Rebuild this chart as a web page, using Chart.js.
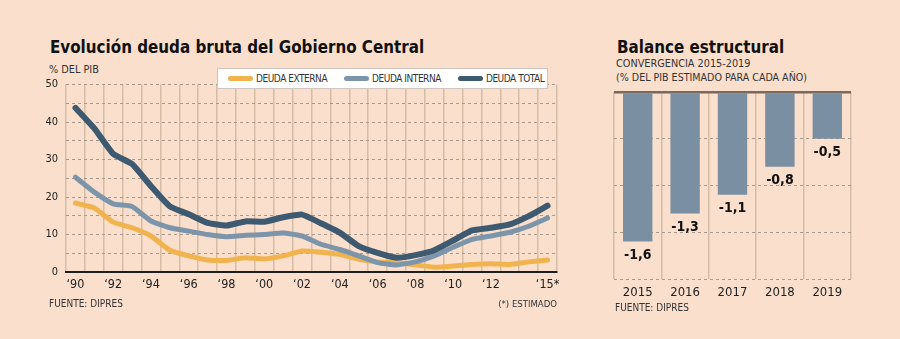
<!DOCTYPE html>
<html lang="es">
<head>
  <meta charset="utf-8">
  <title>Deuda bruta y balance estructural</title>
  <script src="https://cdn.jsdelivr.net/npm/chart.js"></script>
  <style>
    body { margin: 0; width: 900px; height: 339px; background: #f9dfcc; position: relative; overflow: hidden;
           font-family: 'DejaVu Sans Condensed', 'DejaVu Sans', sans-serif; color: #222; }
    .txt { position: absolute; white-space: nowrap; }
    .title { font-size: 18px; font-weight: bold; line-height: 18px; color: #111; transform: scaleX(0.935); transform-origin: left top; }
    .small { font-size: 10.8px; line-height: 10px; color: #333; }
    .box { position: absolute; }
    #legend { position: absolute; left: 217px; top: 68px; width: 331px; height: 21px; background: #fff;
              border: 1px solid #cfc6bf; box-sizing: border-box; display: flex; align-items: center;
              padding-left: 10px; gap: 17px; font-size: 10px; letter-spacing: -0.45px; color: #333; white-space: nowrap; }
    #legend div { display: flex; align-items: center; }
    #legend span.sw { display: inline-block; width: 25px; height: 5px; border-radius: 3px; margin-right: 3px; }
  </style>
</head>
<body>
  <div class="txt title" style="left:50px; top:38px;">Evolución deuda bruta del Gobierno Central</div>
  <div class="txt small" style="left:49px; top:65px;">% DEL PIB</div>
  <div class="box" style="left:30px; top:70px; width:540px; height:229px;"><canvas id="deudaChart"></canvas></div>
  <div id="legend"></div>
  <div class="txt small" style="left:49px; top:299px; font-size:10px;">FUENTE: DIPRES</div>
  <div class="txt small" style="right:343px; top:299px; font-size:9.5px;">(*) ESTIMADO</div>

  <div class="txt title" style="left:617px; top:38px;">Balance estructural</div>
  <div class="txt small" style="left:616px; top:59px;">CONVERGENCIA 2015-2019</div>
  <div class="txt small" style="left:616px; top:72px; font-size:10.6px;">(% DEL PIB ESTIMADO PARA CADA AÑO)</div>
  <div class="box" style="left:600px; top:85px; width:270px; height:215px;"><canvas id="balanceChart"></canvas></div>
  <div class="txt small" style="left:615px; top:303px; font-size:10px;">FUENTE: DIPRES</div>

  <script>
    // Datos: deuda bruta (% del PIB), 1990-2015
    const years = ['1990','1991','1992','1993','1994','1995','1996','1997','1998','1999','2000','2001','2002',
                   '2003','2004','2005','2006','2007','2008','2009','2010','2011','2012','2013','2014','2015'];
    const yearTicks = ['‘90','','‘92','','‘94','','‘96','','‘98','','‘00','','‘02',
                       '','‘04','','‘06','','‘08','','‘10','','‘12','','','‘15*'];
    const deudaExterna = [18.4,17.1,13.3,11.8,9.6,5.8,4.3,3.2,3.1,3.8,3.5,4.3,5.6,
                          5.3,4.7,3.4,2.7,2.5,1.9,1.3,1.6,2.0,2.2,2.0,2.7,3.2];
    const deudaInterna = [25.3,21.3,18.2,17.5,13.6,11.8,10.9,10.0,9.4,9.8,10.0,10.4,9.6,
                          7.4,6.0,4.3,2.5,1.9,2.7,4.3,6.6,8.7,9.6,10.6,12.2,14.4];
    const deudaTotal = [43.8,38.3,31.5,28.8,22.9,17.5,15.4,13.1,12.4,13.5,13.4,14.6,15.3,
                        13.0,10.5,6.9,5.1,3.8,4.5,5.8,8.4,11.1,11.8,12.7,14.9,17.7];
    const seriesNames = ['DEUDA EXTERNA', 'DEUDA INTERNA', 'DEUDA TOTAL'];
    const seriesColors = ['#f0b34e', '#7d95aa', '#3e5a71'];

    // Datos: balance estructural
    const balanceYears = ['2015','2016','2017','2018','2019'];
    const balanceValues = [-1.6, -1.3, -1.1, -0.8, -0.5];

    const FONT = "'DejaVu Sans Condensed', 'DejaVu Sans', sans-serif";

    // leyenda HTML (va dentro del area del grafico)
    const legend = document.getElementById('legend');
    seriesNames.forEach((name, i) => {
      const item = document.createElement('div');
      item.innerHTML = '<span class="sw" style="background:' + seriesColors[i] + '"></span>' + name;
      legend.appendChild(item);
    });

    new Chart(document.getElementById('deudaChart'), {
      type: 'line',
      data: {
        labels: years,
        datasets: [
          { label: seriesNames[0], data: deudaExterna, borderColor: seriesColors[0], borderWidth: 5, order: 3 },
          { label: seriesNames[1], data: deudaInterna, borderColor: seriesColors[1], borderWidth: 5, order: 2 },
          { label: seriesNames[2], data: deudaTotal, borderColor: seriesColors[2], borderWidth: 6, order: 1 }
        ]
      },
      options: {
        responsive: true,
        maintainAspectRatio: false,
        animation: false,
        layout: { padding: { top: 5, right: 13, left: 0, bottom: 0 } },
        elements: {
          point: { radius: 0 },
          line: { tension: 0.15, borderCapStyle: 'round', borderJoinStyle: 'round' }
        },
        plugins: { legend: { display: false }, tooltip: { enabled: false } },
        scales: {
          x: {
            offset: true,
            grid: { offset: true, color: '#d6bea6', lineWidth: 1.5, drawTicks: false },
            border: { display: true, color: '#1e1e1e', width: 2 },
            ticks: {
              autoSkip: false, maxRotation: 0, padding: 5, color: '#222',
              font: { family: FONT, size: 12.5 },
              callback: (v, i) => yearTicks[i]
            },
            afterFit: s => { s.height = 27; }
          },
          y: {
            min: 0, max: 50,
            grid: { color: '#a8998c', lineWidth: 1, drawTicks: false },
            border: { display: false, dash: [3, 3] },
            ticks: {
              stepSize: 5, padding: 8, color: '#222',
              font: { family: FONT, size: 11 },
              callback: v => (v % 10 === 0 ? v : '')
            },
            afterFit: s => { s.width = 36; }
          }
        }
      }
    });

    // etiquetas bajo cada barra
    const barLabels = {
      id: 'barLabels',
      afterDatasetsDraw(chart) {
        const ctx = chart.ctx;
        const meta = chart.getDatasetMeta(0);
        ctx.save();
        ctx.font = 'bold 14px ' + FONT;
        ctx.fillStyle = '#111';
        ctx.textAlign = 'center';
        ctx.textBaseline = 'middle';
        meta.data.forEach((bar, i) => {
          const txt = balanceValues[i].toFixed(1).replace('.', ',');
          ctx.fillText(txt, bar.x, bar.y + 14);
        });
        ctx.restore();
      }
    };

    new Chart(document.getElementById('balanceChart'), {
      type: 'bar',
      data: {
        labels: balanceYears,
        datasets: [{ data: balanceValues, backgroundColor: '#7b8fa3', barPercentage: 0.62, categoryPercentage: 1 }]
      },
      plugins: [barLabels],
      options: {
        responsive: true,
        maintainAspectRatio: false,
        animation: false,
        layout: { padding: { top: 7, right: 19, left: 14, bottom: 0 } },
        plugins: { legend: { display: false }, tooltip: { enabled: false } },
        scales: {
          x: {
            grid: { offset: true, color: '#d6bea6', lineWidth: 1.5, drawTicks: false },
            border: { display: false },
            ticks: { padding: 6, color: '#222', font: { family: FONT, size: 13 } },
            afterFit: s => { s.height = 21; }
          },
          y: {
            min: -2, max: 0,
            ticks: { display: false, stepSize: 0.5 },
            grid: {
              drawTicks: false,
              color: c => (c.tick.value === 0 ? '#7a6a5d' : '#a8998c'),
              lineWidth: c => (c.tick.value === 0 ? 2.5 : 1)
            },
            border: { display: false, dash: c => (c.tick && c.tick.value === 0 ? [] : [3, 3]) },
            afterFit: s => { s.width = 0; }
          }
        }
      }
    });
  </script>
</body>
</html>
